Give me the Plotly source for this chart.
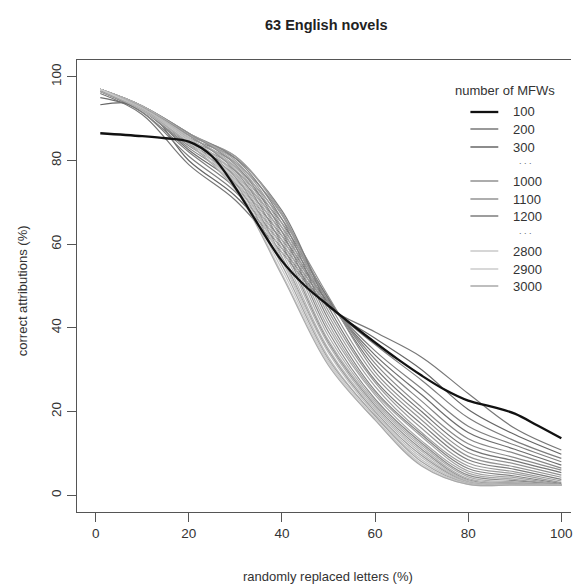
import plotly.graph_objects as go

# ---------------- data ----------------
x_pts = [1, 10, 20, 30, 40, 50, 60, 70, 80, 90, 100]

x_100 = [1, 10, 15, 20, 25, 30, 35, 40, 45, 50, 55, 60, 65, 70, 75, 80, 85, 90, 95, 100]
acc_100 = [86.5, 85.8, 85.3, 84.5, 81, 73.5, 64.5, 56, 50, 45.3, 40.8, 36.5, 32.4, 28.6, 25.2, 22.6, 21.2, 19.5, 16.6, 13.6]

acc_200 = [96, 91, 79, 70.5, 58, 45, 39, 33, 24.3, 16, 10.8]
acc_300 = [93.3, 93, 80, 71.5, 59, 45, 37.5, 30, 20.5, 14.5, 9.8]
acc_400 = [96.5, 91.5, 81, 72.5, 60, 45.5, 36, 27.5, 18.5, 13, 8.8]
acc_500 = [96.5, 91.5, 82, 73.5, 61, 46, 34.5, 25.5, 16.5, 12, 8]
acc_600 = [95, 92, 82.5, 74.5, 62, 46, 33.5, 24, 15, 11, 7.2]
acc_700 = [96.5, 92, 83, 75.5, 63, 46.5, 32.5, 22.5, 13.5, 10, 6.5]
acc_800 = [97, 92, 83.5, 76.5, 64, 47, 31.5, 21, 12.3, 9, 6]
acc_900 = [97, 92.5, 84, 77.5, 65, 47, 30.5, 20, 11.2, 8.2, 5.4]
acc_1000 = [97, 92.5, 84.5, 78.5, 66, 47.5, 29.5, 19, 10.2, 7.5, 4.8]
acc_1100 = [97, 92.5, 85, 79.5, 67, 46, 28.5, 18, 9.3, 6.8, 4.3]
acc_1200 = [97, 93, 85.5, 80.5, 68, 45, 27.5, 17, 8.5, 6.2, 3.8]
acc_1300 = [97, 93, 86, 81, 67.5, 44, 27, 16, 7.7, 5.6, 3.4]
acc_1400 = [97, 93, 86, 81, 67, 43, 26, 15, 7, 5.1, 3.0]
acc_1500 = [97, 93, 86.5, 80.5, 66, 42, 25, 14.5, 6.4, 4.6, 2.8]
acc_1600 = [97, 93, 86.5, 80, 65, 41, 24.5, 14, 5.8, 4.2, 2.6]
acc_1700 = [97, 93, 86.5, 79.5, 64, 40, 24, 13, 5.3, 3.8, 2.5]
acc_1800 = [97, 93, 86.5, 79, 63, 39, 23, 12.5, 4.8, 3.5, 2.5]
acc_1900 = [97, 93, 86, 78.5, 62, 38, 22.5, 12, 4.4, 3.2, 2.5]
acc_2000 = [97, 93, 86, 78, 61, 37, 22, 11.5, 4.0, 3.0, 2.5]
acc_2100 = [97, 92.5, 86, 77.5, 60, 36.5, 21.5, 11, 3.7, 2.8, 2.5]
acc_2200 = [97, 92.5, 85.5, 77, 59, 36, 21, 10.5, 3.5, 2.7, 2.4]
acc_2300 = [97, 92.5, 85.5, 76.5, 58, 35, 20.5, 10, 3.3, 2.6, 2.4]
acc_2400 = [97, 92.5, 85, 76, 57, 34.5, 20, 9.5, 3.1, 2.6, 2.4]
acc_2500 = [97, 92.5, 85, 75.5, 56.5, 34, 19.5, 9, 3.0, 2.5, 2.4]
acc_2600 = [97, 92, 85, 75, 56, 33, 19, 8.5, 2.9, 2.5, 2.4]
acc_2700 = [97, 92, 84.5, 74.5, 55, 32.5, 19, 8, 2.8, 2.5, 2.4]
acc_2800 = [97, 92, 84.5, 74, 54, 32, 18.5, 7.5, 2.7, 2.5, 2.4]
acc_2900 = [97, 92, 84, 73.5, 53, 31.5, 18, 7.2, 2.6, 2.5, 2.4]
acc_3000 = [96.5, 92, 84, 73, 52.5, 31, 18, 7, 2.6, 2.5, 2.4]

grey_series = [
    (200, acc_200), (300, acc_300), (400, acc_400), (500, acc_500),
    (600, acc_600), (700, acc_700), (800, acc_800), (900, acc_900),
    (1000, acc_1000), (1100, acc_1100), (1200, acc_1200), (1300, acc_1300),
    (1400, acc_1400), (1500, acc_1500), (1600, acc_1600), (1700, acc_1700),
    (1800, acc_1800), (1900, acc_1900), (2000, acc_2000), (2100, acc_2100),
    (2200, acc_2200), (2300, acc_2300), (2400, acc_2400), (2500, acc_2500),
    (2600, acc_2600), (2700, acc_2700), (2800, acc_2800), (2900, acc_2900),
    (3000, acc_3000),
]

x_ticks = [0, 20, 40, 60, 80, 100]
y_ticks = [0, 20, 40, 60, 80, 100]
legend_shown = ["100", "200", "300", "...", "1000", "1100", "1200", "...", "2800", "2900", "3000"]

# ---------------- styling helpers ----------------
FONT = "Liberation Sans, Arial, Helvetica, sans-serif"
W, H = 573, 584
L, R, T, B = 77, 0, 60, 72


def px(xp):
    return (xp - L) / (W - L - R)


def py(yp):
    return (H - B - yp) / (H - T - B)


def grey(i):
    g = 119 + 3.1 * i
    if i % 3 == 1:
        g -= 20 + 0.6 * i
    g = int(round(max(0, min(230, g))))
    return f"rgb({g},{g},{g})"


fig = go.Figure()

for i, (mfw, vals) in enumerate(grey_series):
    fig.add_trace(go.Scatter(
        x=x_pts, y=vals, mode="lines", name=str(mfw),
        line=dict(color=grey(i), width=1.2, shape="spline", smoothing=1.0),
        showlegend=False,
    ))

fig.add_trace(go.Scatter(
    x=x_100, y=acc_100, mode="lines", name="100",
    line=dict(color="#111111", width=2.3, shape="spline", smoothing=1.0),
    showlegend=False,
))

annotations = []
shapes = []

# title
annotations.append(dict(text="<b>63 English novels</b>", x=px(328), y=py(25),
                        xref="paper", yref="paper", showarrow=False,
                        font=dict(family=FONT, size=14.5, color="#222"),
                        xanchor="center", yanchor="middle"))
# axis titles
annotations.append(dict(text="randomly replaced letters (%)", x=px(329), y=py(576),
                        xref="paper", yref="paper", showarrow=False,
                        font=dict(family=FONT, size=13, color="#333"),
                        xanchor="center", yanchor="middle"))
annotations.append(dict(text="correct attributions (%)", x=px(22), y=py(291),
                        xref="paper", yref="paper", showarrow=False, textangle=-90,
                        font=dict(family=FONT, size=13, color="#333"),
                        xanchor="center", yanchor="middle"))

# legend (bty = "n")
annotations.append(dict(text="number of MFWs", x=px(507), y=py(90),
                        xref="paper", yref="paper", showarrow=False,
                        font=dict(family=FONT, size=13, color="#333"),
                        xanchor="center", yanchor="middle"))
leg_y = [112, 129, 147, 168, 181, 199, 216, 238, 251, 269, 286]
leg_col = {"100": "#111111", "200": grey(0), "300": grey(1), "1000": grey(8),
           "1100": grey(9), "1200": grey(10), "2800": grey(26), "2900": grey(27),
           "3000": grey(28)}
for lab, yy in zip(legend_shown, leg_y):
    if lab == "...":
        annotations.append(dict(text=". . .", x=px(527), y=py(yy),
                                xref="paper", yref="paper", showarrow=False,
                                font=dict(family=FONT, size=9, color="#666"),
                                xanchor="center", yanchor="bottom"))
        continue
    shapes.append(dict(type="line", xref="paper", yref="paper",
                       x0=px(472), x1=px(500), y0=py(yy), y1=py(yy),
                       line=dict(color=leg_col[lab], width=2.3 if lab == "100" else 1.5)))
    annotations.append(dict(text=lab, x=px(513), y=py(yy),
                            xref="paper", yref="paper", showarrow=False,
                            font=dict(family=FONT, size=13, color="#333"),
                            xanchor="left", yanchor="middle"))

x_right = -4 + (W - L - R) * (104 - (-4)) / (582 - 77)

fig.update_layout(
    width=W, height=H,
    margin=dict(l=L, r=R, t=T, b=B, pad=0),
    paper_bgcolor="white", plot_bgcolor="white",
    annotations=annotations, shapes=shapes,
    showlegend=False,
    xaxis=dict(range=[-4, x_right], tickvals=x_ticks, ticktext=[str(v) for v in x_ticks],
               ticks="outside", ticklen=9, tickwidth=1.2, tickcolor="#555",
               showline=True, linecolor="#555", linewidth=1.3, mirror=True,
               showgrid=False, zeroline=False, ticklabeloverflow="allow",
               tickfont=dict(family=FONT, size=13.5, color="#333")),
    yaxis=dict(range=[-4, 104], tickvals=y_ticks, ticktext=[str(v) for v in y_ticks],
               ticks="outside", ticklen=9, tickwidth=1.2, tickcolor="#555",
               showline=True, linecolor="#555", linewidth=1.3, mirror=False,
               showgrid=False, zeroline=False, tickangle=-90,
               tickfont=dict(family=FONT, size=13.5, color="#333")),
)

fig.write_html(
    "out.html",
    config={"displayModeBar": False},
    post_script="document.body.style.margin='0';document.body.style.overflow='hidden';",
)
